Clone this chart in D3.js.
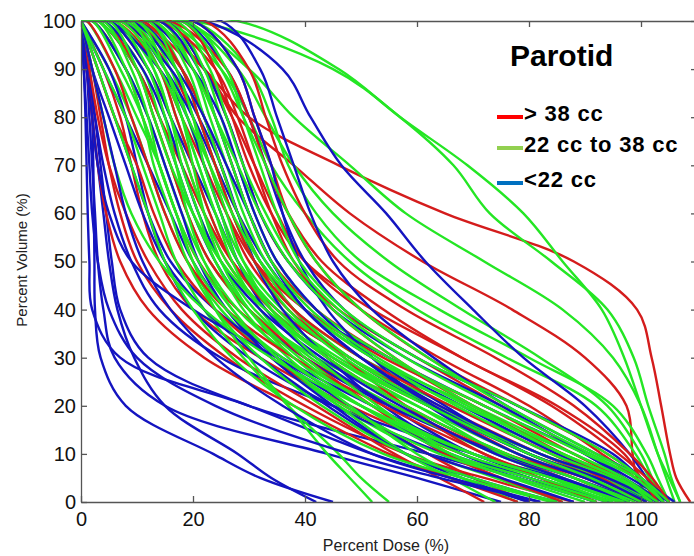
<!DOCTYPE html>
<html lang="en">
<head>
  <meta charset="UTF-8">
  <title>Parotid DVH</title>
  <script src="https://d3js.org/d3.v7.min.js"></script>
  <style>
    body {
      margin: 0;
      background: #fff;
      font-family: "Liberation Sans", Arial, sans-serif;
    }
    .axis path, .axis line {
      stroke: #555;
      stroke-width: 1.3;
    }
    .axis text {
      font-family: "Liberation Sans", Arial, sans-serif;
      font-size: 20px;
      fill: #111;
    }
    .dvh {
      fill: none;
      stroke-width: 2.4;
      stroke-linejoin: round;
    }
  </style>
</head>
<body>
  <svg id="chart" width="694" height="556"></svg>

  <script>
    // volume levels (%) at which each curve's dose (%) is read
    const volumeLevels = [100, 90, 80, 70, 60, 50, 40, 30, 20, 10, 5, 0];

    // > 38 cc
    const redDoses = [
      [12, 22, 30, 46, 65, 88, 99.3, 101.9, 103.6, 105.2, 106.3, 108.8],
      [12, 22, 28, 38, 48, 61, 77, 90, 97.4, 98.5, 99.3, 102],
      [0, 2, 3.5, 5, 7, 10, 16, 26, 40, 58, 72, 88],
      [0, 4, 7, 9, 11, 14, 20, 32, 48, 68, 80, 92],
      [2, 8, 11, 14, 17, 21, 28, 40, 56, 75, 86, 96],
      [5, 12, 16, 19, 22, 26, 33, 45, 62, 80, 90, 100],
      [10, 20, 24, 27, 30, 34, 42, 55, 70, 86, 94, 101],
      [8, 16, 20, 23, 26, 30, 37, 48, 62, 78, 88, 98],
      [15, 22, 26, 29, 32, 37, 46, 60, 75, 90, 97, 103],
      [12, 22, 27, 31, 35, 40, 50, 64, 80, 93, 99, 104],
      [3, 10, 14, 18, 22, 27, 35, 48, 64, 82, 92, 101],
      [20, 28, 31, 34, 37, 42, 50, 62, 78, 94, 100, 104],
      [0, 3, 6, 10, 13, 17, 24, 34, 47, 62, 70, 80],
      [6, 14, 18, 22, 26, 31, 40, 54, 72, 88, 96, 103],
      [18, 24, 27, 30, 34, 40, 52, 68, 84, 96, 101, 105],
      [4, 10, 13, 16, 19, 23, 30, 40, 52, 65, 75, 86],
      [9, 18, 22, 25, 28, 32, 38, 47, 58, 72, 84, 97],
      [14, 24, 28, 31, 34, 38, 45, 56, 70, 86, 95, 102],
      [0, 1.5, 3, 5, 8, 12, 18, 28, 42, 56, 64, 72],
      [22, 30, 33, 36, 40, 46, 58, 74, 88, 98, 102, 105],
      [0, 1, 2, 3, 4.5, 7, 12, 22, 38, 55, 66, 78],
      [7, 14, 17, 20, 23, 27, 34, 44, 58, 76, 90, 100],
      [16, 26, 30, 33, 37, 43, 54, 68, 85, 97, 100, 103],
      [1, 6, 9, 12, 15, 19, 26, 38, 54, 72, 82, 92],
      [11, 18, 21, 24, 27, 31, 38, 50, 66, 84, 93, 100]
    ];

    // 22 cc to 38 cc
    const greenDoses = [
      [28, 46, 57, 69, 79, 86, 93, 97, 100, 103, 105, 107],
      [20, 45, 57, 66.5, 73, 84, 94, 98.7, 101.3, 104.2, 105.4, 107],
      [18, 30, 38, 48, 58, 72, 86, 95, 100, 103, 104.5, 106],
      [18, 28, 33, 38, 45, 55, 68, 82, 94, 100, 102, 104],
      [15, 25, 30, 34, 40, 48, 60, 76, 92, 99, 101.5, 104],
      [20, 30, 34, 37, 42, 50, 64, 80, 95, 101, 103, 105],
      [0, 5, 9, 12, 15, 19, 25, 34, 46, 62, 74, 86],
      [2, 8, 12, 15, 18, 22, 28, 38, 52, 68, 80, 92],
      [5, 12, 15, 18, 21, 25, 31, 41, 56, 74, 86, 98],
      [8, 14, 17, 20, 23, 27, 34, 46, 62, 80, 92, 101],
      [10, 16, 19, 22, 25, 29, 36, 48, 66, 86, 96, 103],
      [12, 18, 21, 24, 27, 31, 38, 50, 68, 88, 97, 104],
      [3, 10, 13, 16, 19, 23, 30, 42, 60, 78, 90, 100],
      [6, 13, 16, 19, 22, 26, 33, 44, 58, 76, 88, 99],
      [14, 20, 23, 26, 29, 33, 40, 52, 70, 88, 97, 103],
      [16, 22, 25, 28, 31, 35, 42, 55, 72, 90, 99, 104],
      [9, 15, 18, 21, 24, 28, 35, 45, 60, 75, 84, 94],
      [4, 11, 14, 17, 20, 24, 29, 37, 48, 60, 68, 78],
      [1, 6, 10, 14, 17, 21, 27, 35, 46, 58, 66, 74],
      [0, 4, 8, 11, 14, 17, 22, 29, 37, 46, 50, 55],
      [2, 7, 11, 14, 17, 20, 24, 30, 37, 44, 48, 52],
      [11, 18, 21, 24, 27, 31, 37, 47, 62, 82, 94, 102],
      [7, 14, 18, 21, 24, 27, 32, 40, 52, 70, 84, 97],
      [13, 19, 22, 25, 28, 32, 38, 48, 63, 82, 93, 101],
      [17, 23, 26, 29, 33, 38, 46, 58, 74, 91, 99, 104],
      [0, 2, 4, 6, 9, 14, 22, 34, 50, 70, 84, 96],
      [8, 15, 19, 23, 27, 32, 40, 52, 67, 84, 95, 103],
      [19, 26, 29, 32, 35, 39, 47, 60, 78, 94, 100, 104],
      [5, 10, 13, 16, 20, 25, 33, 45, 62, 80, 91, 100],
      [10, 17, 20, 23, 26, 29, 34, 42, 53, 66, 77, 90],
      [4, 9, 12, 14, 17, 20, 26, 36, 50, 68, 82, 95],
      [12, 17, 20, 22, 25, 28, 34, 44, 58, 76, 88, 98],
      [6, 12, 15, 17, 19, 22, 27, 35, 47, 64, 78, 92],
      [15, 21, 24, 27, 30, 34, 41, 53, 69, 86, 96, 102],
      [0, 3, 6, 9, 12, 15, 20, 27, 38, 54, 68, 84],
      [9, 13, 16, 18, 21, 24, 30, 39, 52, 70, 84, 97],
      [13, 20, 24, 28, 32, 37, 45, 56, 70, 86, 96, 103],
      [3, 8, 11, 13, 16, 19, 24, 32, 43, 58, 70, 85],
      [18, 25, 29, 33, 37, 42, 50, 62, 76, 92, 100, 105],
      [10, 15, 18, 20, 22, 25, 30, 38, 50, 66, 80, 94]
    ];

    // < 22 cc
    const blueDoses = [
      [0, 1.5, 2, 2.2, 2.3, 2.4, 2.5, 3.5, 8, 23.6, 32, 45],
      [0, 0.5, 0.8, 1, 1.2, 1.5, 2, 7, 30, 52, 66, 80],
      [0, 1.5, 2.5, 3.5, 4.5, 5.5, 7, 12, 30, 62, 78, 92],
      [0, 1, 1.5, 2, 2.5, 3, 4, 6, 15, 44, 60, 75],
      [0, 1.2, 2, 3, 4, 5, 6.5, 9.5, 15, 28, 34, 42],
      [0, 1, 2.5, 4, 6, 9, 14, 25, 45, 70, 85, 98],
      [0, 5, 8, 10, 12, 15, 20, 30, 45, 65, 78, 92],
      [3, 10, 14, 17, 20, 24, 30, 40, 55, 75, 88, 100],
      [5, 12, 16, 20, 24, 28, 35, 48, 62, 80, 92, 102],
      [22, 36, 41, 46.5, 54.5, 61.5, 70, 79, 90, 98, 101, 104],
      [8, 15, 20, 24, 28, 33, 40, 52, 68, 85, 95, 104],
      [0, 3, 6, 9, 12, 16, 24, 36, 52, 70, 82, 95],
      [10, 18, 22, 25, 28, 32, 40, 55, 72, 90, 98, 105],
      [15, 22, 26, 29, 32, 37, 45, 58, 75, 90, 97, 104],
      [2, 8, 12, 15, 18, 21, 26, 34, 45, 58, 68, 80],
      [0, 4, 8, 12, 16, 20, 26, 35, 48, 62, 75, 88],
      [12, 20, 25, 28, 31, 35, 42, 52, 65, 80, 92, 103],
      [5, 14, 19, 22, 25, 28, 33, 42, 55, 70, 85, 97],
      [18, 26, 30, 33, 36, 40, 47, 60, 78, 95, 100, 106],
      [0, 2, 5, 8, 11, 15, 22, 32, 44, 58, 70, 85],
      [7, 16, 21, 25, 28, 31, 36, 44, 54, 68, 80, 95],
      [20, 28, 31, 34, 36, 39, 44, 52, 62, 78, 90, 100],
      [0, 1, 2, 3, 5, 9, 20, 35, 50, 66, 80, 94],
      [25, 32, 35, 38, 41, 45, 52, 63, 76, 92, 100, 104],
      [0, 0.5, 1, 1.5, 2, 3, 5, 10, 24, 48, 64, 82],
      [4, 11, 15, 18, 21, 25, 32, 43, 57, 74, 86, 98],
      [9, 17, 22, 26, 30, 34, 40, 50, 63, 80, 92, 101],
      [0, 2, 4, 6, 8, 11, 16, 24, 36, 52, 66, 82],
      [14, 21, 24, 27, 30, 34, 40, 50, 64, 82, 94, 103]
    ];

    const groups = [
      { name: "> 38 cc", color: "#d41c1c", legend: "#ff0000", doses: redDoses },
      { name: "22 cc to 38 cc", color: "#24e624", legend: "#92d050", doses: greenDoses },
      { name: "<22 cc", color: "#1414c0", legend: "#0070c0", doses: blueDoses }
    ];

    const xTicks = [0, 20, 40, 60, 80, 100];
    const yTicks = [0, 10, 20, 30, 40, 50, 60, 70, 80, 90, 100];

    const margin = { top: 21, right: 0, bottom: 54, left: 81 };
    const W = 694, H = 556;

    const svg = d3.select("#chart");

    const x = d3.scaleLinear().domain([0, 110]).range([margin.left, margin.left + 616]);
    const y = d3.scaleLinear().domain([0, 100]).range([H - margin.bottom, margin.top]);

    svg.append("clipPath").attr("id", "plot")
      .append("rect")
      .attr("x", x(0)).attr("y", y(100) - 1)
      .attr("width", x(110) - x(0)).attr("height", y(0) - y(100) + 1);

    const line = d3.line()
      .x(d => x(d[0]))
      .y(d => y(d[1]))
      .curve(d3.curveCatmullRom.alpha(0.5));

    function curvePoints(doses) {
      const pts = volumeLevels.map((v, i) => [doses[i], v]);
      if (doses[0] > 0) pts.unshift([0, 100]);
      return pts;
    }

    // interleave the three groups so no single colour sits on top
    const curves = [];
    const n = d3.max(groups, g => g.doses.length);
    for (let i = 0; i < n; i++) {
      groups.forEach(g => {
        if (g.doses[i]) curves.push({ color: g.color, pts: curvePoints(g.doses[i]) });
      });
    }

    svg.append("g")
      .attr("clip-path", "url(#plot)")
      .selectAll("path")
      .data(curves)
      .join("path")
      .attr("class", "dvh")
      .attr("stroke", d => d.color)
      .attr("d", d => line(d.pts));

    // axes (MATLAB-style box with inward ticks)
    svg.append("g")
      .attr("class", "axis")
      .attr("transform", `translate(0,${y(0)})`)
      .call(d3.axisBottom(x).tickValues(xTicks).tickSizeInner(-6).tickSizeOuter(0).tickPadding(10));

    svg.append("g")
      .attr("class", "axis")
      .attr("transform", `translate(0,${y(100)})`)
      .call(d3.axisTop(x).tickValues(xTicks).tickSizeInner(-6).tickSizeOuter(0).tickFormat(""));

    svg.append("g")
      .attr("class", "axis")
      .attr("transform", `translate(${x(0)},0)`)
      .call(d3.axisLeft(y).tickValues(yTicks).tickSizeInner(-6).tickSizeOuter(0).tickPadding(5));

    svg.append("g")
      .attr("class", "axis")
      .attr("transform", `translate(${x(110)},0)`)
      .call(d3.axisRight(y).tickValues(yTicks).tickSizeInner(-6).tickSizeOuter(0).tickFormat(""));

    svg.append("text")
      .attr("x", 386).attr("y", 551)
      .attr("text-anchor", "middle")
      .attr("font-size", 16)
      .attr("fill", "#222")
      .text("Percent Dose (%)");

    svg.append("text")
      .attr("transform", "translate(27,260) rotate(-90)")
      .attr("text-anchor", "middle")
      .attr("font-size", 15)
      .attr("fill", "#222")
      .text("Percent Volume (%)");

    // legend
    const legend = svg.append("g");
    legend.append("text")
      .attr("x", 510).attr("y", 66)
      .attr("font-size", 30).attr("font-weight", "bold")
      .text("Parotid");

    const legendY = [117, 148, 183];
    groups.forEach((g, i) => {
      legend.append("line")
        .attr("x1", 497).attr("x2", 523)
        .attr("y1", legendY[i]).attr("y2", legendY[i])
        .attr("stroke", g.legend).attr("stroke-width", 4);
      legend.append("text")
        .attr("x", 524).attr("y", legendY[i] + 4)
        .attr("font-size", 22).attr("font-weight", "bold")
        .attr("letter-spacing", 0.8)
        .text(g.name);
    });
  </script>
</body>
</html>
